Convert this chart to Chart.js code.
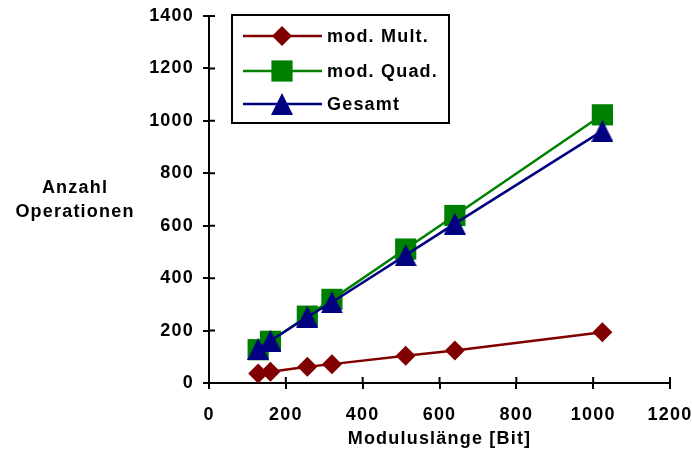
<!DOCTYPE html>
<html>
<head>
<meta charset="utf-8">
<script src="https://cdn.jsdelivr.net/npm/chart.js@4.4.0/dist/chart.umd.min.js"></script>
<style>
    html, body { margin: 0; padding: 0; background: #fff; }
</style>
</head>
<body>
<canvas id="opsChart" width="692" height="465"></canvas>
<script>
// Data
var bitLengths = [128, 160, 256, 320, 512, 640, 1024];
var multOps = [36, 43, 62, 72, 104, 124, 194];
var quadOps = [127, 159, 255, 319, 511, 639, 1023];
var totalOps = [130, 161, 252, 308, 488, 608, 962];
var seriesNames = ['mod. Mult.', 'mod. Quad.', 'Gesamt'];
var yTitleLines = ['Anzahl', 'Operationen'];
var xTitle = 'Moduluslänge [Bit]';

var FONT = '"Liberation Sans", Arial, sans-serif';
var SPACING = '1.2px';
var colors = ['#800000', '#008000', '#000080'];

// triangle marker centred in its own box (like the original), not on its centroid
function makeTriangle(color) {
    var c = document.createElement('canvas');
    c.width = 22;
    c.height = 22;
    var g = c.getContext('2d');
    g.fillStyle = color;
    g.beginPath();
    g.moveTo(11, 0);
    g.lineTo(22, 22);
    g.lineTo(0, 22);
    g.closePath();
    g.fill();
    return c;
}

var styles = [
    { pointStyle: 'rectRot', radius: 10 },
    { pointStyle: 'rect', radius: 15 },
    { pointStyle: makeTriangle(colors[2]), radius: 11 }
];

function toPoints(xs, ys) {
    return xs.map(function (x, i) { return { x: x, y: ys[i] }; });
}

function makeSet(i, values, order) {
    return {
        label: seriesNames[i],
        data: toPoints(bitLengths, values),
        borderColor: colors[i],
        backgroundColor: colors[i],
        borderWidth: 2.5,
        pointStyle: styles[i].pointStyle,
        pointRadius: styles[i].radius,
        pointBorderWidth: 0,
        pointBackgroundColor: colors[i],
        order: order,
        fill: false,
        tension: 0
    };
}

// slightly wider letter spacing like the original text
function setSpacing(chart) {
    chart.ctx.letterSpacing = SPACING;
}

var decorPlugin = {
    id: 'decor',
    beforeUpdate: setSpacing,
    beforeLayout: setSpacing,
    beforeDraw: setSpacing,
    beforeDatasetsDraw: function (chart) {
        // short tick marks on the inner side of both axes
        var ctx = chart.ctx, a = chart.chartArea;
        var xs = chart.scales.x, ys = chart.scales.y;
        ctx.save();
        ctx.strokeStyle = '#000';
        ctx.lineWidth = 2;
        ctx.beginPath();
        xs.ticks.forEach(function (t) {
            var px = xs.getPixelForValue(t.value);
            ctx.moveTo(px, a.bottom);
            ctx.lineTo(px, a.bottom - 6);
        });
        ys.ticks.forEach(function (t) {
            var py = ys.getPixelForValue(t.value);
            ctx.moveTo(a.left, py);
            ctx.lineTo(a.left + 6, py);
        });
        ctx.stroke();
        ctx.restore();
    },
    afterDraw: function (chart) {
        var ctx = chart.ctx;
        ctx.save();
        ctx.letterSpacing = SPACING;
        ctx.fillStyle = '#000';
        ctx.font = 'bold 18px ' + FONT;
        ctx.textAlign = 'center';
        ctx.textBaseline = 'middle';
        ctx.fillText(yTitleLines[0], 75, 188);
        ctx.fillText(yTitleLines[1], 75, 212);

        // legend box
        ctx.lineWidth = 2;
        ctx.strokeStyle = '#000';
        ctx.strokeRect(232, 15, 217, 108);
        var rows = [36, 71, 104];
        ctx.textAlign = 'left';
        chart.data.datasets.forEach(function (ds, i) {
            var y = rows[i];
            ctx.strokeStyle = colors[i];
            ctx.lineWidth = 2.5;
            ctx.beginPath();
            ctx.moveTo(243, y);
            ctx.lineTo(322, y);
            ctx.stroke();
            ctx.fillStyle = colors[i];
            Chart.helpers.drawPoint(ctx, {
                pointStyle: styles[i].pointStyle,
                radius: styles[i].radius,
                rotation: 0,
                borderWidth: 0
            }, 282, y);
            ctx.fillStyle = '#000';
            ctx.fillText(seriesNames[i], 327, y + 1);
        });
        ctx.restore();
    }
};

var tickFont = { family: FONT, size: 18, weight: 'bold' };

new Chart(document.getElementById('opsChart'), {
    type: 'line',
    data: {
        datasets: [
            makeSet(0, multOps, 2),
            makeSet(1, quadOps, 1),
            makeSet(2, totalOps, 0)
        ]
    },
    options: {
        responsive: false,
        animation: false,
        layout: { padding: { top: 16, right: 22, left: 0, bottom: 0 } },
        plugins: {
            legend: { display: false },
            tooltip: { enabled: false }
        },
        scales: {
            x: {
                type: 'linear',
                min: 0,
                max: 1200,
                ticks: {
                    stepSize: 200,
                    padding: 15,
                    color: '#000',
                    font: tickFont,
                    callback: function (v) { return String(v); }
                },
                grid: { drawOnChartArea: false, tickLength: 6, color: '#000', lineWidth: 2 },
                border: { color: '#000', width: 2 },
                title: {
                    display: true,
                    text: xTitle,
                    color: '#000',
                    padding: { top: 0, bottom: 15 },
                    font: tickFont
                },
                afterFit: function (s) {
                    s.height = 82;
                    s.paddingLeft = 0;
                    s.paddingRight = 0;
                }
            },
            y: {
                min: 0,
                max: 1400,
                ticks: {
                    stepSize: 200,
                    padding: 9,
                    color: '#000',
                    font: tickFont,
                    callback: function (v) { return String(v); }
                },
                grid: { drawOnChartArea: false, tickLength: 6, color: '#000', lineWidth: 2 },
                border: { color: '#000', width: 2 },
                afterFit: function (s) {
                    s.width = 209;
                    s.paddingTop = 0;
                    s.paddingBottom = 0;
                }
            }
        }
    },
    plugins: [decorPlugin]
});
</script>
</body>
</html>
